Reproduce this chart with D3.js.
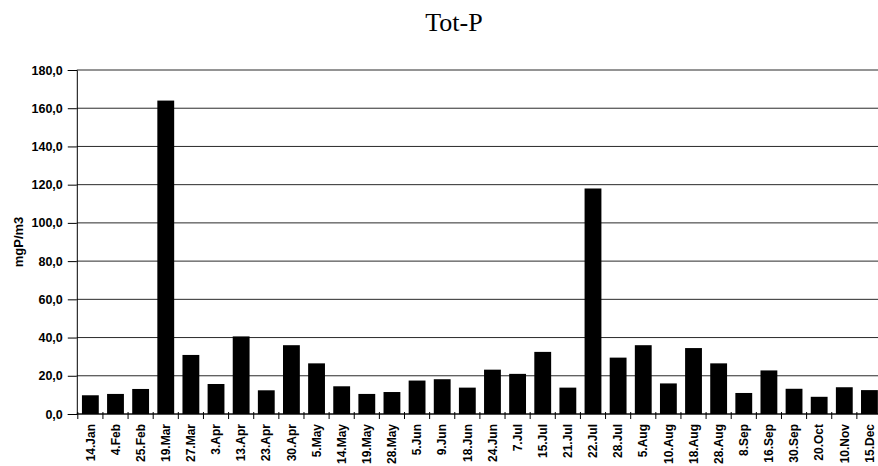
<!DOCTYPE html>
<html>
<head>
<meta charset="utf-8">
<script src="https://cdn.jsdelivr.net/npm/d3@7"></script>
<style>
  body { margin: 0; background: #fff; }
  svg { display: block; }
  .tick text { font-family: "Liberation Sans", Arial, sans-serif; font-weight: bold; }
</style>
</head>
<body>
<svg id="chart" width="878" height="466"></svg>
<script>
// sampling dates (x categories)
const dates = ['14.Jan', '4.Feb', '25.Feb', '19.Mar', '27.Mar', '3.Apr', '13.Apr', '23.Apr',
  '30.Apr', '5.May', '14.May', '19.May', '28.May', '5.Jun', '9.Jun', '18.Jun', '24.Jun',
  '7.Jul', '15.Jul', '21.Jul', '22.Jul', '28.Jul', '5.Aug', '10.Aug', '18.Aug', '28.Aug',
  '8.Sep', '16.Sep', '30.Sep', '20.Oct', '10.Nov', '15.Dec'];

// Tot-P in mgP/m3
const totP = [9.8, 10.5, 13.1, 164, 30.9, 15.7, 40.6, 12.4,
  36, 26.5, 14.5, 10.5, 11.5, 17.5, 18.2, 13.8, 23.2,
  21, 32.5, 13.8, 118, 29.5, 36, 16, 34.5, 26.5,
  11, 22.8, 13.2, 9, 14, 12.5];

const yTicks = [0, 20, 40, 60, 80, 100, 120, 140, 160, 180];

const svg = d3.select('#chart');
const margin = { left: 77.8, right: -4, top: 70, bottom: 52 };
const width = 878, height = 466;

const x = d3.scaleBand()
    .domain(dates)
    .range([margin.left, width - margin.right])
    .paddingInner(0.33)
    .paddingOuter(0.165);

const y = d3.scaleLinear()
    .domain([0, 180])
    .range([height - margin.bottom, margin.top]);

const fmt = d => d3.format('.1f')(d).replace('.', ',');

// horizontal gridlines
svg.append('g')
  .selectAll('line')
  .data(yTicks)
  .join('line')
    .attr('x1', margin.left - 1)
    .attr('x2', width)
    .attr('y1', d => y(d))
    .attr('y2', d => y(d))
    .attr('stroke', '#2a2a2a')
    .attr('stroke-width', 1);

// bars
svg.append('g')
  .selectAll('rect')
  .data(totP)
  .join('rect')
    .attr('x', (d, i) => x(dates[i]))
    .attr('y', d => y(d))
    .attr('width', x.bandwidth())
    .attr('height', d => y(0) - y(d))
    .attr('fill', '#000');

// y axis
const yAxis = svg.append('g')
    .attr('transform', `translate(${margin.left - 1},0)`)
    .call(d3.axisLeft(y).tickValues(yTicks).tickFormat(fmt).tickSize(9).tickPadding(5));
yAxis.select('.domain').attr('stroke', '#000');
yAxis.selectAll('.tick line').attr('stroke', '#000');
yAxis.selectAll('.tick text').attr('font-size', 12.5).attr('fill', '#000');

// x axis baseline with boundary ticks
const step = x.step();
const bounds = d3.range(dates.length + 1).map(k => margin.left + k * step);
svg.append('line')
    .attr('x1', margin.left - 1).attr('x2', width)
    .attr('y1', y(0)).attr('y2', y(0))
    .attr('stroke', '#000');
svg.append('g')
  .selectAll('line')
  .data(bounds)
  .join('line')
    .attr('x1', d => d).attr('x2', d => d)
    .attr('y1', y(0) - 2).attr('y2', y(0) + 5)
    .attr('stroke', '#000');

// x labels, rotated
svg.append('g')
  .selectAll('text')
  .data(dates)
  .join('text')
    .attr('transform', d => `translate(${x(d) + x.bandwidth() / 2},${y(0) + 10}) rotate(-90)`)
    .attr('dy', '0.35em')
    .attr('text-anchor', 'end')
    .attr('font-family', '"Liberation Sans", Arial, sans-serif')
    .attr('font-weight', 'bold')
    .attr('font-size', 12)
    .text(d => d);

// y axis title
svg.append('text')
    .attr('transform', `translate(18,${(y(0) + y(180)) / 2}) rotate(-90)`)
    .attr('dy', '0.35em')
    .attr('text-anchor', 'middle')
    .attr('font-family', '"Liberation Sans", Arial, sans-serif')
    .attr('font-weight', 'bold')
    .attr('font-size', 13)
    .text('mgP/m3');

// title
svg.append('text')
    .attr('x', 454)
    .attr('y', 31)
    .attr('text-anchor', 'middle')
    .attr('font-family', '"Liberation Serif", "Times New Roman", serif')
    .attr('font-size', 26)
    .text('Tot-P');
</script>
</body>
</html>
